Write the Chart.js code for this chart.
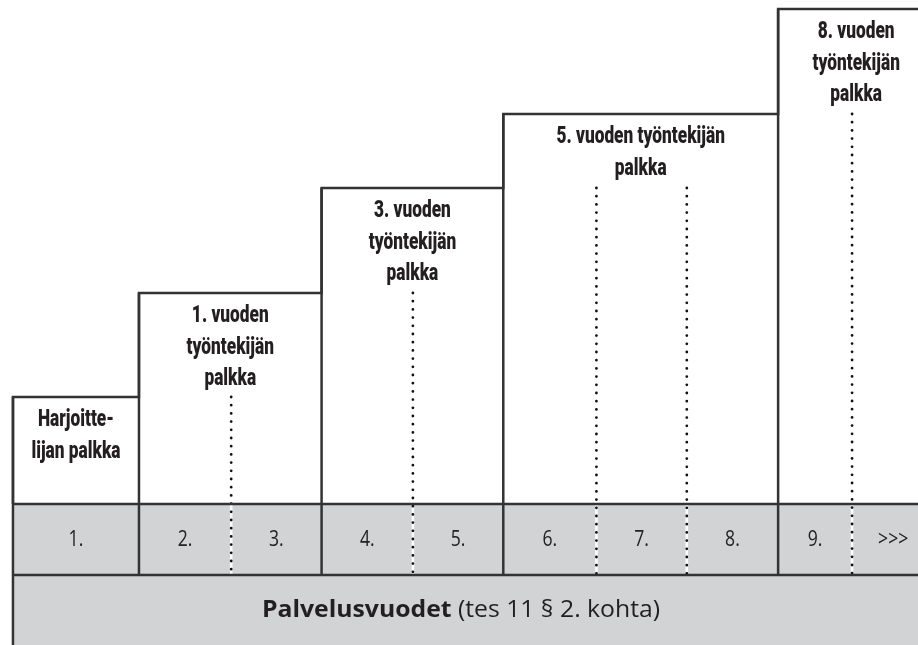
<!DOCTYPE html>
<html>
<head>
<meta charset="utf-8">
<script src="https://cdn.jsdelivr.net/npm/chart.js@4/dist/chart.umd.min.js"></script>
<style>
  html, body { margin: 0; padding: 0; background: #ffffff; }
  #wrap { width: 918px; height: 645px; }
</style>
</head>
<body>
<div id="wrap"><canvas id="c" width="918" height="645"></canvas></div>
<script>
// ---- data ----
const yearLabels = ['1.', '2.', '3.', '4.', '5.', '6.', '7.', '8.', '9.', '>>>'];
// column boundaries on the service-year axis (first year and 9th year are drawn wider/narrower)
const columnEdges = [-1.38, 0, 1.01, 2, 3, 3.99, 5.01, 6, 7, 7.81, 8.71];
// pay levels (relative height of each step)
const levelNames = [
  ['Harjoitte-', 'lijan palkka'],
  ['1. vuoden', 'työntekijän', 'palkka'],
  ['3. vuoden', 'työntekijän', 'palkka'],
  ['5. vuoden työntekijän', 'palkka'],
  ['8. vuoden', 'työntekijän', 'palkka']
];
const levelValues = [107, 211, 316, 390, 495];
const levelFirstYear = [1, 2, 4, 6, 9];   // service year where each pay level starts
const rowBands = [0, -71, -141];          // years row and footer row (below base)
const footerBold = 'Palvelusvuodet';
const footerNormal = ' (tes 11 § 2. kohta)';

// ---- derived geometry from data ----
const nYears = yearLabels.length;
function levelSpan(k) {
  const a = levelFirstYear[k] - 1;
  const b = (k + 1 < levelFirstYear.length) ? levelFirstYear[k + 1] - 1 : nYears;
  return [columnEdges[a], columnEdges[b]];
}
const G = null;
const stepPts = [{x: columnEdges[0], y: rowBands[0]}];
levelValues.forEach((v, k) => {
  const [a, b] = levelSpan(k);
  stepPts.push({x: a, y: v});
  stepPts.push({x: b, y: v});
});
const solidPts = [];
solidPts.push({x: columnEdges[0], y: levelValues[0]}, {x: columnEdges[0], y: rowBands[2]}, {x: columnEdges[0], y: G});
levelValues.forEach((v, k) => {
  if (k === 0) return;
  const [a] = levelSpan(k);
  solidPts.push({x: a, y: v}, {x: a, y: rowBands[1]}, {x: a, y: G});
});
solidPts.push({x: columnEdges[0], y: rowBands[0]}, {x: columnEdges[nYears], y: rowBands[0]}, {x: columnEdges[nYears], y: G});
solidPts.push({x: columnEdges[0], y: rowBands[1]}, {x: columnEdges[nYears], y: rowBands[1]});
const dotPts = [];
const whitePts = [];
for (let e = 1; e < nYears; e++) {
  const yearNo = e + 1;
  if (levelFirstYear.includes(yearNo)) continue;
  let k = 0;
  for (let i = 0; i < levelFirstYear.length; i++) if (levelFirstYear[i] <= yearNo) k = i;
  const top = levelValues[k - 1];
  dotPts.push({x: columnEdges[e], y: top}, {x: columnEdges[e], y: rowBands[1]}, {x: columnEdges[e], y: G});
  whitePts.push({x: columnEdges[e], y: rowBands[0]}, {x: columnEdges[e], y: rowBands[1]}, {x: columnEdges[e], y: G});
}
const grayPts = [{x: columnEdges[0], y: rowBands[0]}, {x: columnEdges[nYears], y: rowBands[0]}];

const LINE = '#333333';
const GRAY = '#d1d3d4';
const CONDENSE = 0.72;

const textPlugin = {
  id: 'texts',
  afterDatasetsDraw(chart) {
    const ctx = chart.ctx;
    const xs = chart.scales.x, ys = chart.scales.y;
    ctx.save();
    ctx.fillStyle = '#231f20';
    ctx.textAlign = 'center';
    ctx.textBaseline = 'middle';
    // level labels (condensed heavy)
    ctx.font = '900 24px Roboto, "Liberation Sans", sans-serif';
    levelNames.forEach((lines, k) => {
      const [a, b] = levelSpan(k);
      const cx = (xs.getPixelForValue(a) + xs.getPixelForValue(b)) / 2;
      const top = ys.getPixelForValue(levelValues[k]);
      lines.forEach((t, i) => {
        ctx.save();
        ctx.translate(cx, top + 23 + i * 31.5);
        ctx.scale(CONDENSE, 1);
        ctx.fillText(t, 0, 0);
        ctx.restore();
      });
    });
    // year labels
    ctx.font = '400 22px "Open Sans", "Lato", sans-serif';
    ctx.fillStyle = '#222222';
    const yRow = ys.getPixelForValue((rowBands[0] + rowBands[1]) / 2);
    yearLabels.forEach((t, i) => {
      const cx = (xs.getPixelForValue(columnEdges[i]) + xs.getPixelForValue(columnEdges[i + 1])) / 2;
      ctx.save();
      ctx.translate(cx, yRow);
      ctx.scale(0.8, 1);
      ctx.fillText(t, 0, 0);
      ctx.restore();
    });
    // footer label
    const yFoot = ys.getPixelForValue((rowBands[1] + rowBands[2]) / 2);
    ctx.textAlign = 'left';
    const fB = '700 24px "Open Sans", sans-serif';
    const fN = '400 24px "Open Sans", sans-serif';
    ctx.font = fB;
    const wB = ctx.measureText(footerBold).width;
    ctx.font = fN;
    const wN = ctx.measureText(footerNormal).width;
    const cx = (chart.chartArea.left + chart.chartArea.right) / 2 + 2;
    ctx.save();
    ctx.translate(cx, yFoot);
    const sc = 398 / (wB + wN);
    ctx.scale(sc, 1);
    const x0 = -(wB + wN) / 2;
    ctx.font = fB;
    ctx.fillStyle = '#231f20';
    ctx.fillText(footerBold, x0, 0);
    ctx.font = fN;
    ctx.fillText(footerNormal, x0 + wB, 0);
    ctx.restore();
    ctx.restore();
  }
};

new Chart(document.getElementById('c'), {
  type: 'line',
  data: {
    datasets: [
      {data: stepPts, borderColor: LINE, borderWidth: 2.5, fill: false, order: 1, clip: false},
      {data: solidPts, borderColor: LINE, borderWidth: 2.5, fill: false, order: 2, clip: false, spanGaps: false},
      {data: dotPts, borderColor: '#111111', borderWidth: 2.8, borderDash: [0, 8.2], borderCapStyle: 'round', fill: false, order: 3, clip: false, spanGaps: false},
      {data: whitePts, borderColor: '#ffffff', borderWidth: 2.5, fill: false, order: 4, clip: false, spanGaps: false},
      {data: grayPts, borderColor: GRAY, borderWidth: 0, backgroundColor: GRAY, fill: 'start', order: 10, clip: false}
    ]
  },
  options: {
    responsive: false,
    animation: false,
    layout: {padding: 0},
    elements: {point: {radius: 0, hoverRadius: 0}, line: {tension: 0}},
    plugins: {legend: {display: false}, tooltip: {enabled: false}},
    events: [],
    scales: {
      x: {type: 'linear', display: false, min: -1.522, max: 8.532},
      y: {type: 'linear', display: false, min: rowBands[2], max: 504}
    }
  },
  plugins: [textPlugin]
});
</script>
</body>
</html>
